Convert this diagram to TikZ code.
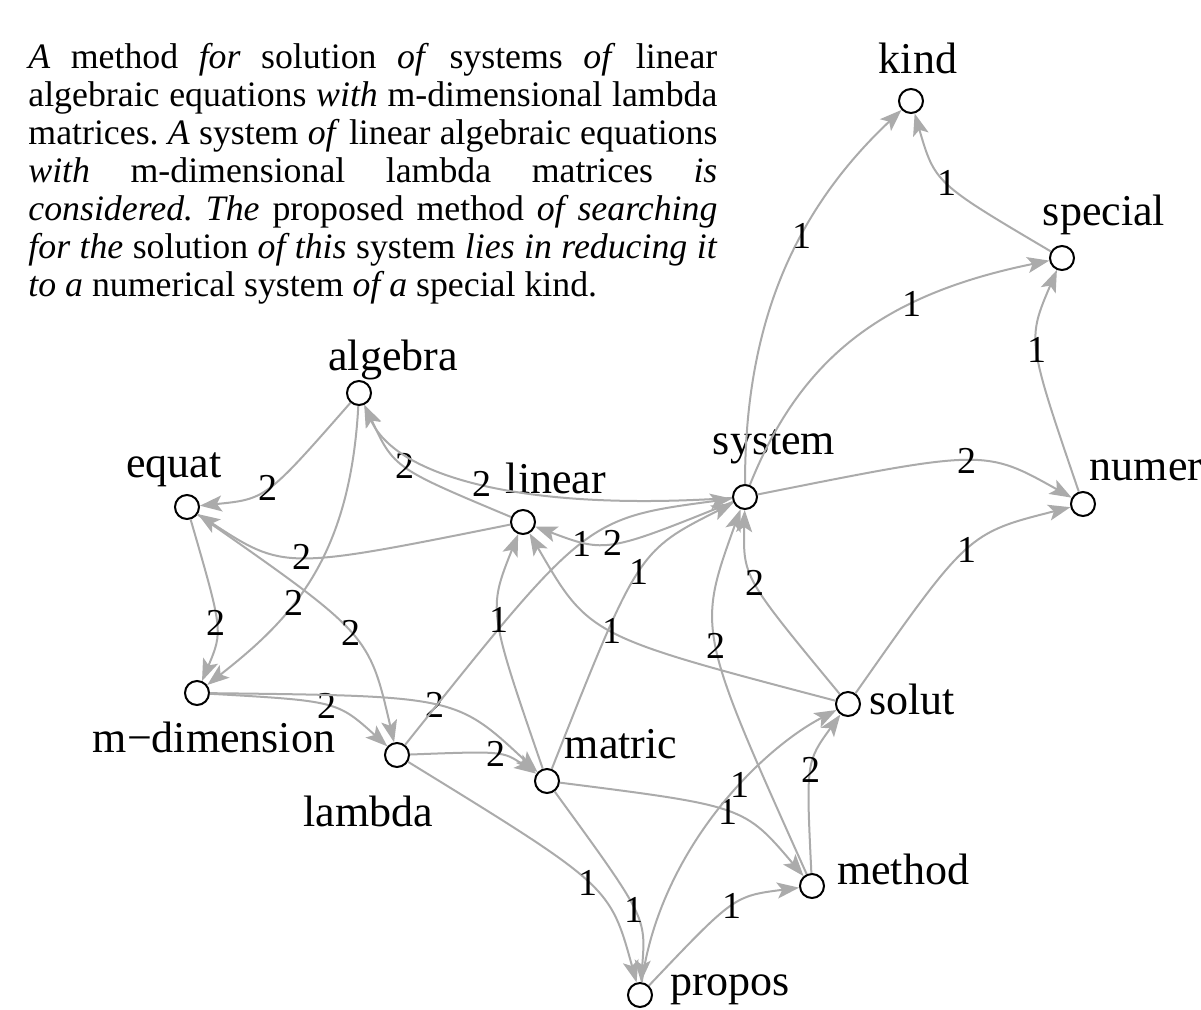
\documentclass[tikz,border=0pt]{standalone}
\usepackage{fontspec}
\setmainfont{Liberation Serif}
\usetikzlibrary{arrows.meta}

\begin{document}
\begin{tikzpicture}[x=0.5pt,y=-0.5pt]
  \definecolor{eGrey}{rgb}{0.67,0.67,0.67}
  \tikzset{
    vtx/.style={circle,draw=black,line width=1pt,fill=white,minimum size=12pt,inner sep=0pt},
    lab/.style={font=\fontsize{22pt}{24pt}\selectfont,inner sep=0pt},
    elab/.style={font=\fontsize{19pt}{20pt}\selectfont,inner sep=0pt,text=black},
    edge/.style={draw=eGrey,line width=1pt,-{Stealth[length=11pt,width=8pt,inset=2.5pt]}},
    para/.style={font=\fontsize{17.9pt}{19pt}\selectfont,inner sep=0pt,text width=344.5pt,align=justify}
  }
  \useasboundingbox (0,0) rectangle (1201,1009);

  % abstract
  \node[para,anchor=north west] (abstract) at (28,43) {\frenchspacing
    \textit{A} method \textit{for} solution \textit{of} systems \textit{of} linear\linebreak
    algebraic equations \textit{with} m-dimensional lambda\linebreak
    matrices. \textit{A} system \textit{of} linear algebraic equations\linebreak
    \textit{with} m-dimensional lambda matrices \textit{is}\linebreak
    \textit{considered. The} proposed method \textit{of searching}\linebreak
    \textit{for the} solution \textit{of this} system \textit{lies in reducing it}\linebreak
    \textit{to a} numerical system \textit{of a} special kind.};

  % vertices
  \foreach \n/\x/\y in {
                        kind/911/101,     special/1062/258,  numer/1083/504,
                        system/745/497,   algebra/359/393,   equat/187/507,
                        linear/523/522,   mdim/197/693,      lambda/397/755,
                        matric/547/781,   solut/848/704,     method/812/886,
                        propos/640/995
                       }
  {
    \node[vtx] (\n) at (\x,\y) {};
  }

  % vertex names
  \foreach \n/\x/\y/\t in {
                        kind/918/58/kind,           special/1104/215/special,
                        numer/1146/470/numer,       system/774/447/system,
                        algebra/393/360/algebra,    equat/174/470/equat,
                        linear/556/478/linear,      mdim/214/737/m−dimension,
                        lambda/368/811/lambda,      matric/621/744/matric,
                        solut/912/699/solut,        method/903/869/method,
                        propos/730/990/propos
                       }
  {
    \node[lab] (\n-name) at (\x,\y) {\t};
  }

  % edges - weights
  \foreach \src/\dst/\ax/\ay/\bx/\by/\p/\wt [count=\i] in {
                        system/kind/745/330/790/215/.62/1,
                        special/kind/935/183/935/183/.5/1,
                        system/special/800/360/880/295/.68/1,
                        numer/special/1027/340/1027/340/.5/1,
                        system/numer/985/449/985/449/.5/2,
                        solut/numer/968/533/968/533/.5/1,
                        algebra/equat/266/499/266/499/.5/2,
                        linear/algebra/394/468/394/468/.5/2,
                        system/algebra/524/512/396/477/.5/2,
                        linear/equat/284/570/284/570/.5/2,
                        algebra/mdim/350/560/290/620/.6/2,
                        equat/mdim/223/631/223/631/.5/2,
                        equat/lambda/369/634/369/634/.5/2,
                        mdim/lambda/337/701/337/701/.5/2,
                        mdim/matric/456/696/456/696/.5/2,
                        lambda/matric/503/751/503/751/.5/2,
                        lambda/system/586/518/586/518/.5/1,
                        system/linear/606/553/606/553/.5/2,
                        matric/system/638/551/638/551/.5/1,
                        matric/linear/488/610/488/610/.5/1,
                        solut/linear/589/636/589/636/.5/1,
                        method/system/697/630/697/630/.5/2,
                        solut/system/743/577/743/577/.5/2,
                        lambda/propos/610/886/610/886/.5/1,
                        matric/propos/646/917/646/917/.5/1,
                        matric/method/744/806/744/806/.5/1,
                        propos/solut/660/850/760/750/.6/1,
                        method/solut/806/762/806/762/.5/2,
                        propos/method/734/896/734/896/.5/1
                       }
  {
    \draw[edge] (\src) .. controls (\ax,\ay) and (\bx,\by) .. (\dst) node[elab,pos=\p] (w\i) {\wt};
  }
\end{tikzpicture}
\end{document}
